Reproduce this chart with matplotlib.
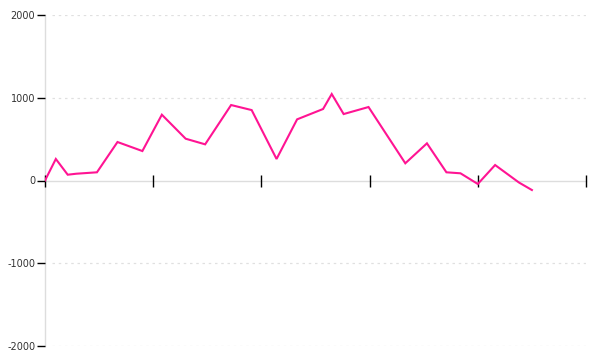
import matplotlib
matplotlib.use("Agg")
import matplotlib.pyplot as plt

# data (x positions in axis units, ticks every 10)
x_vals = [0, 1.0, 2.1, 2.9, 4.8, 6.7, 9.0, 10.8, 13.0, 14.8, 17.2, 19.1, 21.4,
          23.3, 25.7, 26.5, 27.6, 29.9, 33.3, 35.3, 37.1, 38.4, 40.0, 41.6,
          43.8, 45.0]
y_vals = [0, 260, 70, 82, 99, 465, 356, 795, 505, 437, 912, 851, 260,
          739, 864, 1045, 803, 888, 208, 449, 99, 87, -42, 187,
          -24, -115]
x_ticks = [0, 10, 20, 30, 40, 50]
y_ticks = [-2000, -1000, 0, 1000, 2000]
y_labels = ["-2000", "-1000", "0", "1000", "2000"]

fig = plt.figure(figsize=(6, 3.6), dpi=100)
ax = fig.add_axes([45/600, 1-346/360, (586-45)/600, (346-15)/360])

ax.plot(x_vals, y_vals, color="#ff1493", linewidth=1.5, solid_joinstyle="miter", zorder=3)

ax.set_xlim(0, 50)
ax.set_ylim(-2000, 2000)

for s in ["top", "right"]:
    ax.spines[s].set_visible(False)
ax.spines["left"].set_color("#dddddd")
ax.spines["left"].set_linewidth(1.0)
ax.spines["left"].set_zorder(0.5)
ax.spines["bottom"].set_position(("data", 0))
ax.spines["bottom"].set_color("#dddddd")
ax.spines["bottom"].set_linewidth(1.0)
ax.spines["bottom"].set_zorder(0.5)

ax.set_xticks(x_ticks)
ax.set_xticklabels([""] * len(x_ticks))
ax.tick_params(axis="x", direction="inout", length=8, width=1, color="black")

ax.set_yticks(y_ticks)
ax.set_yticklabels(y_labels, fontsize=7, color="#333333")
ax.tick_params(axis="y", direction="out", length=6, width=1, color="black", pad=1)

for v in y_ticks:
    if v != 0:
        ax.axhline(v, xmin=7/541, color="#e0e0e0", linewidth=0.9, linestyle=(0, (2, 3)), zorder=1)

fig.savefig("out.png", dpi=100)
